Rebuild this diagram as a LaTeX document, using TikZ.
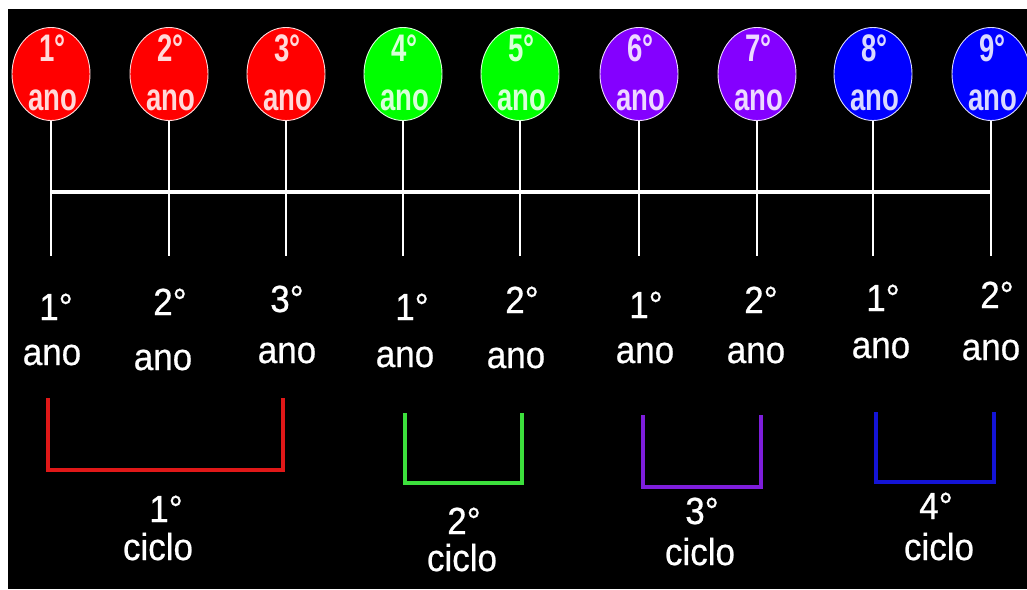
\documentclass[tikz,border=0pt]{standalone}
\usepackage{fontspec}
\setmainfont{Liberation Sans}
\newfontfamily\heavysans[FakeBold=0.6]{Liberation Sans}
\usetikzlibrary{shapes.geometric}
\definecolor{fred}{HTML}{FF0000}
\definecolor{fgreen}{HTML}{00FF00}
\definecolor{fpurple}{HTML}{8400FF}
\definecolor{fblue}{HTML}{0000FF}
\definecolor{lred}{HTML}{E01818}
\definecolor{lgreen}{HTML}{3CE03C}
\definecolor{lpurple}{HTML}{7E1EDC}
\definecolor{lblue}{HTML}{1414D6}
\tikzset{
  balloon/.style={ellipse, draw=white!85!#1, fill=#1, line width=0.9pt,
    minimum width=78pt, minimum height=93pt, inner sep=0pt},
  btxt/.style={anchor=base, inner sep=0pt, text=white!85!#1,
    font=\bfseries\fontsize{32pt}{32pt}\selectfont, xscale=0.86, yscale=1.2},
  ltxt/.style={anchor=base, inner sep=0pt, text=white,
    font=\heavysans\fontsize{35pt}{35pt}\selectfont, yscale=1.08},
  wline/.style={draw=white, line width=3.4pt},
  stemline/.style={draw=white, line width=2.6pt},
  bracket/.style={draw=#1, line width=3.6pt, line join=miter, line cap=butt}
}
\begin{document}
\begin{tikzpicture}[x=1pt,y=-1pt]
\useasboundingbox (0,0) rectangle (1027,589);
\fill[white] (0,0) rectangle (1027,589);
\fill[black] (8,9) rectangle (1027,589);

% balloons, stems and year labels
\foreach \i/\x/\c/\n in {1/51/fred/1, 2/169/fred/2, 3/286/fred/3,
    4/403/fgreen/4, 5/520/fgreen/5, 6/639/fpurple/6, 7/757/fpurple/7,
    8/873/fblue/8, 9/991/fblue/9}{
  \node[balloon=\c] (b\i) at (\x,74) {};
  \node[btxt=\c] (bn\i) at (\x+1.5,61) {\n°};
  \node[btxt=\c] (ba\i) at (\x+1.5,110) {ano};
  \coordinate (h\i) at (\x,192);
  \coordinate (t\i) at (\x,256);
  \draw[stemline] (b\i.south) -- (t\i);
}
\draw[wline] (h1) -- (h9);

% lower labels
\foreach \i/\n/\xa/\ya/\xb/\yb in {1/1/56/320/52/365, 2/2/170/315/163/370,
    3/3/287/312/287/363, 4/1/412/320/405/367, 5/2/522/313/516/368,
    6/1/646/318/645/363, 7/2/761/313/756/363, 8/1/883/311/881/358,
    9/2/997/308/991/360}{
  \node[ltxt] (ln\i) at (\xa,\ya) {\n°};
  \node[ltxt] (la\i) at (\xb,\yb) {ano};
}

% brackets
\coordinate (r1) at (48,398); \coordinate (r2) at (48,470);
\coordinate (r3) at (283,470); \coordinate (r4) at (283,398);
\draw[bracket=lred] (r1) -- (r2) -- (r3) -- (r4);
\coordinate (g1) at (405,413); \coordinate (g2) at (405,483);
\coordinate (g3) at (522,483); \coordinate (g4) at (522,413);
\draw[bracket=lgreen] (g1) -- (g2) -- (g3) -- (g4);
\coordinate (p1) at (643,415); \coordinate (p2) at (643,487);
\coordinate (p3) at (761,487); \coordinate (p4) at (761,415);
\draw[bracket=lpurple] (p1) -- (p2) -- (p3) -- (p4);
\coordinate (u1) at (876,412); \coordinate (u2) at (876,482);
\coordinate (u3) at (994,482); \coordinate (u4) at (994,412);
\draw[bracket=lblue] (u1) -- (u2) -- (u3) -- (u4);

% cycle labels
\foreach \i/\xa/\ya/\xb/\yb in {1/166/522/158/560, 2/464/534/462/571,
    3/702/524/700/565, 4/936/519/939/560}{
  \node[ltxt] (cn\i) at (\xa,\ya) {\i°};
  \node[ltxt] (cc\i) at (\xb,\yb) {ciclo};
}
\end{tikzpicture}
\end{document}
